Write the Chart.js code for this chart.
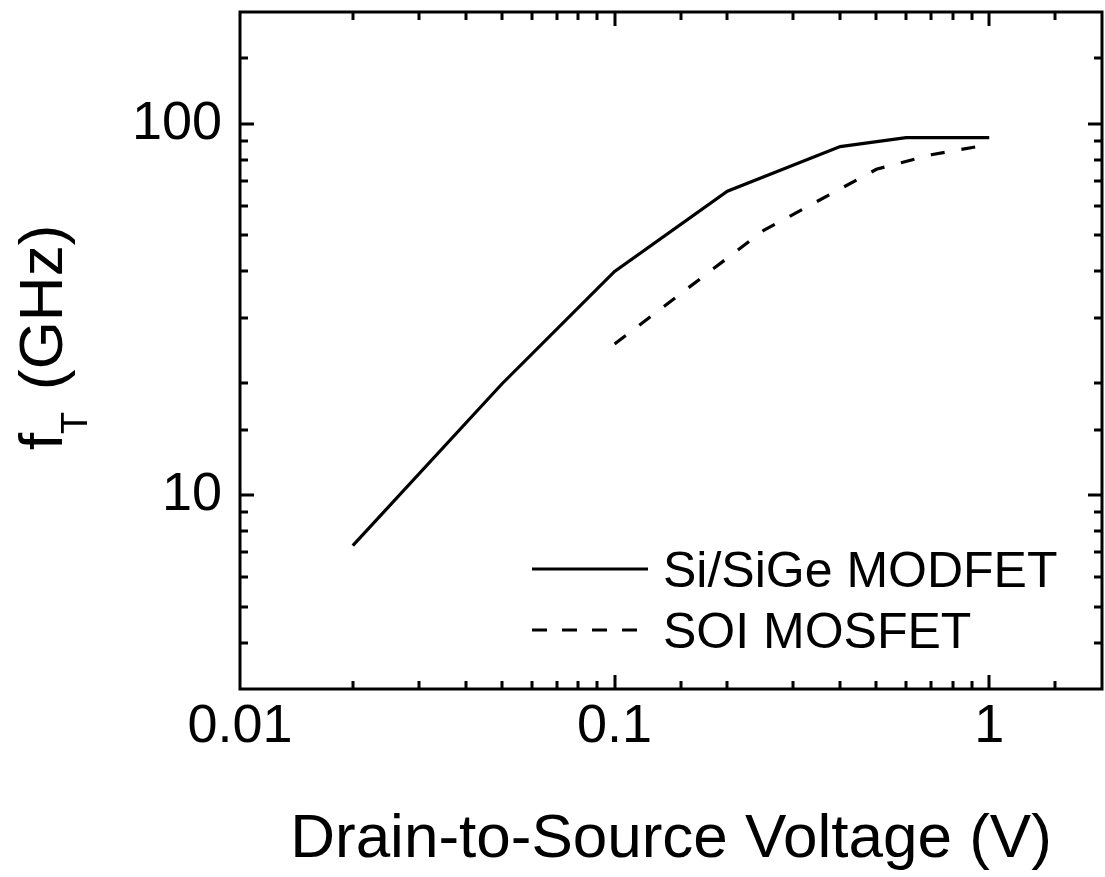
<!DOCTYPE html>
<html>
<head>
<meta charset="utf-8">
<script src="https://cdn.jsdelivr.net/npm/chart.js@4/dist/chart.umd.min.js"></script>
<style>
  html, body { margin: 0; padding: 0; background: #fff; }
  #wrap { width: 1105px; height: 877px; }
</style>
</head>
<body>
<div id="wrap"><canvas id="ftChart" width="1105" height="877"></canvas></div>
<script>
// data
const modfetVds = [0.02, 0.05, 0.1, 0.2, 0.4, 0.6, 1];
const modfetFt = [7.3, 19.9, 40, 65.8, 86.8, 91.7, 91.7];
const soiVds = [0.1, 0.25, 0.5, 0.7, 1];
const soiFt = [25.5, 51.6, 75.4, 82.5, 87.9];
const seriesNames = ["Si/SiGe MODFET", "SOI MOSFET"];
const xLabels = [0.01, 0.1, 1];
const yLabels = [10, 100];
const xTitle = "Drain-to-Source Voltage (V)";

const FONT = "'Liberation Sans', Arial, Helvetica, sans-serif";

function isDecade(v) {
  const l = Math.log10(v);
  return Math.abs(l - Math.round(l)) < 1e-6;
}

// frame, inward ticks on all 4 sides, titles, legend
const decorPlugin = {
  id: "decor",
  afterDraw(chart) {
    const ctx = chart.ctx;
    const a = chart.chartArea;
    const xs = chart.scales.x, ys = chart.scales.y;
    ctx.save();
    ctx.strokeStyle = "#000";
    ctx.lineWidth = 3;
    ctx.strokeRect(a.left, a.top, a.right - a.left, a.bottom - a.top);

    ctx.beginPath();
    xs.ticks.forEach(t => {
      const px = Math.round(xs.getPixelForValue(t.value));
      if (px <= a.left + 1 || px >= a.right - 1) return;
      const len = isDecade(t.value) ? 14 : 8;
      ctx.moveTo(px, a.bottom); ctx.lineTo(px, a.bottom - len);
      ctx.moveTo(px, a.top); ctx.lineTo(px, a.top + len);
    });
    ys.ticks.forEach(t => {
      const py = Math.round(ys.getPixelForValue(t.value));
      if (py <= a.top + 1 || py >= a.bottom - 1) return;
      const len = isDecade(t.value) ? 14 : 8;
      ctx.moveTo(a.left, py); ctx.lineTo(a.left + len, py);
      ctx.moveTo(a.right, py); ctx.lineTo(a.right - len, py);
    });
    ctx.stroke();

    // x title
    ctx.fillStyle = "#000";
    ctx.font = "62px " + FONT;
    ctx.textAlign = "center";
    ctx.textBaseline = "alphabetic";
    ctx.fillText(xTitle, (a.left + a.right) / 2, 857);

    // y title: f_T (GHz)
    ctx.save();
    ctx.translate(62, 450);
    ctx.rotate(-Math.PI / 2);
    ctx.textAlign = "left";
    ctx.font = "62px " + FONT;
    ctx.fillText("f", 0, 0);
    ctx.font = "36px " + FONT;
    ctx.fillText("T", 16, 25);
    ctx.font = "62px " + FONT;
    ctx.fillText("(GHz)", 60, 0);
    ctx.restore();

    // legend
    const legendRows = [
      { name: seriesNames[0], dash: [], y: 569 },
      { name: seriesNames[1], dash: [15, 15], y: 630 }
    ];
    ctx.font = "50px " + FONT;
    ctx.textAlign = "left";
    legendRows.forEach(r => {
      ctx.setLineDash(r.dash);
      ctx.lineWidth = 3;
      ctx.beginPath();
      ctx.moveTo(532, r.y); ctx.lineTo(648, r.y);
      ctx.stroke();
      ctx.setLineDash([]);
      ctx.fillText(r.name, 663, r.y + 18);
    });
    ctx.restore();
  }
};

new Chart(document.getElementById("ftChart"), {
  type: "line",
  data: {
    datasets: [
      {
        label: seriesNames[0],
        data: modfetVds.map((v, i) => ({ x: v, y: modfetFt[i] })),
        borderColor: "#000",
        borderWidth: 3.2,
        pointRadius: 0,
        fill: false,
        tension: 0
      },
      {
        label: seriesNames[1],
        data: soiVds.map((v, i) => ({ x: v, y: soiFt[i] })),
        borderColor: "#000",
        borderWidth: 3.2,
        borderDash: [14, 17],
        pointRadius: 0,
        fill: false,
        tension: 0
      }
    ]
  },
  options: {
    responsive: false,
    animation: false,
    layout: { padding: { top: 12, right: 3, left: 0, bottom: 0 } },
    plugins: { legend: { display: false }, tooltip: { enabled: false } },
    scales: {
      x: {
        type: "logarithmic",
        min: 0.01,
        max: 2,
        grid: { display: false, drawTicks: false },
        border: { display: false },
        afterFit(scale) {
          scale.height = 188;
          scale.paddingLeft = 0;
          scale.paddingRight = 0;
        },
        ticks: {
          autoSkip: false,
          maxRotation: 0,
          padding: 6,
          color: "#000",
          font: { family: FONT, size: 54 },
          callback(value) {
            return xLabels.some(l => Math.abs(l - value) < 1e-9) ? String(Number(value.toPrecision(3))) : "";
          }
        }
      },
      y: {
        type: "logarithmic",
        min: 3,
        max: 200,
        grid: { display: false, drawTicks: false },
        border: { display: false },
        afterFit(scale) {
          scale.width = 240;
          scale.paddingTop = 0;
          scale.paddingBottom = 0;
        },
        ticks: {
          autoSkip: false,
          padding: 18,
          color: "#000",
          font: { family: FONT, size: 54 },
          callback(value) {
            return yLabels.some(l => Math.abs(l - value) < 1e-6) ? String(Math.round(value)) : "";
          }
        }
      }
    }
  },
  plugins: [decorPlugin]
});
</script>
</body>
</html>
